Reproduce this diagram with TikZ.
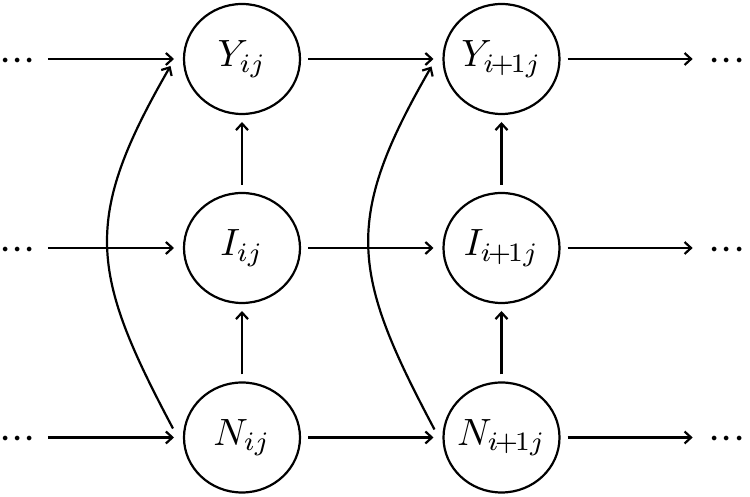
\documentclass[tikz,border=0pt]{standalone}
\usepackage{graphicx}
\usetikzlibrary{arrows.meta,shapes.geometric,calc}
\newcommand{\varlabel}[1]{\makebox[0pt][c]{\scalebox{3.8}{$#1$}}}
\newcommand{\bigdots}{\scalebox{4.4}{$\cdotp\mkern-3mu\cdotp\mkern-3mu\cdotp$}}
\begin{document}
\begin{tikzpicture}[x=1pt,y=1pt,
  var/.style={ellipse,draw,line width=2.2pt,minimum width=116pt,minimum height=110pt,inner sep=0pt,outer sep=0pt},
  dotsnode/.style={inner sep=0pt,outer sep=0pt},
  arr/.style={line width=2.2pt,-{Straight Barb[length=6.5pt,width=12pt,line width=2.2pt]}},
  harr/.style={arr,shorten <=8pt,shorten >=10pt},
  varr/.style={arr,shorten <=8pt,shorten >=8pt},
  curvearr/.style={arr,out=118,in=240,looseness=1.25}]
\useasboundingbox (0,0) rectangle (750,497);
% nodes
\node[var] (Y1) at (242,438) {\varlabel{Y_{ij}}};
\node[var] (I1) at (242,249) {\varlabel{I_{ij}}};
\node[var] (N1) at (242,59.5) {\varlabel{N_{ij}}};
\node[var] (Y2) at (501.5,438) {\varlabel{Y_{i\mkern-2mu+\mkern-2mu1j}}};
\node[var] (I2) at (501.5,249) {\varlabel{I_{i\mkern-2mu+\mkern-2mu1j}}};
\node[var] (N2) at (501.5,59.5) {\varlabel{N_{i\mkern-2mu+\mkern-2mu1j}}};
% dots
\node[dotsnode] (LY) at (17.5,435.5) {\bigdots};
\node[dotsnode] (LI) at (17.5,246.5) {\bigdots};
\node[dotsnode] (LN) at (17.5,57) {\bigdots};
\node[dotsnode] (RY) at (727,435.5) {\bigdots};
\node[dotsnode] (RI) at (727,246.5) {\bigdots};
\node[dotsnode] (RN) at (727,57) {\bigdots};
% horizontal arrows
\foreach \r in {Y,I,N}{
  \draw[harr,shorten <=12pt] (L\r.east|-\r1) -- (\r1);
  \draw[harr] (\r1) -- (\r2);
  \draw[harr,shorten >=16pt] (\r2) -- (R\r.west|-\r2);
}
% vertical arrows
\draw[varr] (N1) -- (I1);
\draw[varr] (I1) -- (Y1);
\draw[varr] (N2) -- (I2);
\draw[varr] (I2) -- (Y2);
% curved arrows
\draw[curvearr] ($(N1.center)+(-69,9)$) to ($(Y1.center)+(-71.5,-7)$);
\draw[curvearr] ($(N2.center)+(-67,8)$) to ($(Y2.center)+(-70,-7.5)$);
\end{tikzpicture}
\end{document}
